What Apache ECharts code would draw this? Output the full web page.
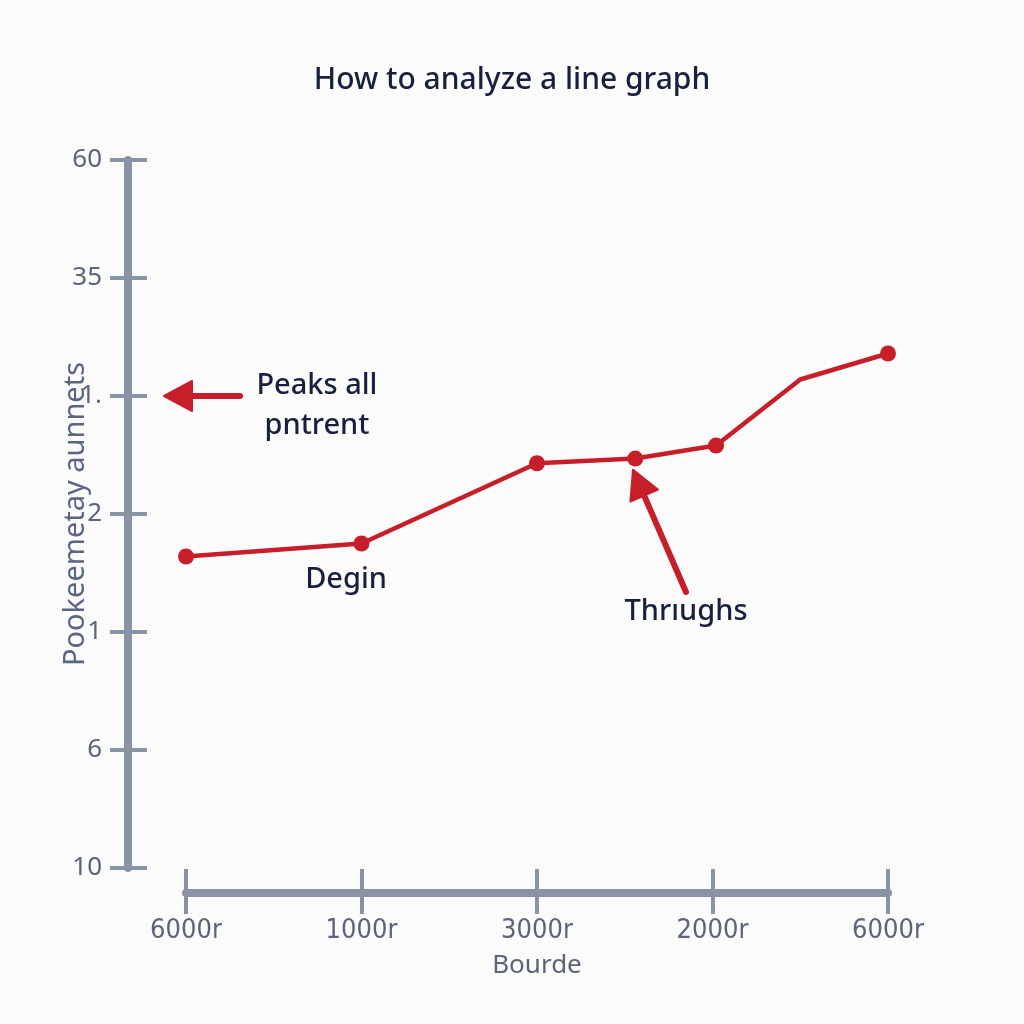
<!DOCTYPE html>
<html>
<head>
<meta charset="utf-8">
<script src="https://cdn.jsdelivr.net/npm/echarts@6/dist/echarts.min.js"></script>
<style>
html,body{margin:0;padding:0;background:#fbfbfc;}
#chart{width:1024px;height:1024px;}
</style>
</head>
<body>
<div id="chart"></div>
<script>
// ---- data ----
const titleText = 'How to analyze a line graph';
const xTickLabels = ['6000r', '1000r', '3000r', '2000r', '6000r'];
const yTickLabels = ['10', '6', '1', '2', '1.', '35', '60'];
const xName = 'Bourde';
const yName = 'Pookeemetay aunnets';
const seriesX = [0, 1, 2, 2.56, 3.02, 3.5, 4];
const seriesY = [2.64, 2.75, 3.43, 3.47, 3.58, 4.14, 4.36];
const noMarkerIndex = 5;
const annotationTexts = ['Peaks all\npntrent', 'Degin', 'Thrıughs'];
const annotationX = [0.746, 0.912, 2.849];
const annotationY = [3.915, 2.44, 2.17];
const arrowFrom = [[0.308, 4.0], [2.849, 2.339]];
const arrowTip = [[-0.125, 4.0], [2.547, 3.374]];

// ---- styles ----
const axisColor = '#8a92a5';
const labelColor = '#5b6478';
const red = '#c71f29';
const dark = '#17203d';

const chart = echarts.init(document.getElementById('chart'));

const seriesData = seriesX.map((x, i) => {
  const item = { value: [x, seriesY[i]] };
  if (i === noMarkerIndex) item.symbol = 'none';
  return item;
});

const markPointData = annotationTexts.map((t, i) => ({
  coord: [annotationX[i], annotationY[i]],
  value: t,
  symbol: 'rect',
  symbolSize: 1,
  itemStyle: { color: 'rgba(0,0,0,0)' },
  label: {
    show: true,
    position: 'inside',
    formatter: t,
    color: dark,
    fontFamily: 'Noto Sans',
    fontSize: 29,
    fontWeight: 500,
    lineHeight: 40,
    align: 'center',
    verticalAlign: 'middle'
  }
}));

chart.setOption({
  backgroundColor: '#fbfbfc',
  animation: false,
  title: {
    text: titleText,
    left: 'center',
    top: 60,
    textStyle: { color: dark, fontFamily: 'Noto Sans', fontSize: 30, fontWeight: 500 }
  },
  grid: { left: 186, right: 136, top: 160, bottom: 156, containLabel: false },
  xAxis: [{
    type: 'value', min: 0, max: 4, interval: 1, position: 'bottom', offset: 25,
    name: xName, nameLocation: 'middle', nameGap: 60, nameMoveOverlap: false,
    nameTextStyle: { color: labelColor, fontFamily: 'Noto Sans', fontSize: 26 },
    axisLine: { show: true, onZero: false, lineStyle: { color: axisColor, width: 8 } },
    axisTick: { show: true, length: 21, lineStyle: { color: axisColor, width: 4 } },
    axisLabel: {
      color: labelColor, fontFamily: "'DejaVu Sans Condensed', 'Roboto'", fontSize: 27, margin: 24,
      formatter: v => xTickLabels[Math.round(v)]
    },
    splitLine: { show: false }
  }, {
    type: 'value', min: 0, max: 4, interval: 1, position: 'bottom', offset: 25,
    axisLine: { show: false, onZero: false },
    axisTick: { show: true, inside: true, length: 24, lineStyle: { color: axisColor, width: 4 } },
    axisLabel: { show: false },
    splitLine: { show: false }
  }],
  yAxis: [{
    type: 'value', min: 0, max: 6, interval: 1, position: 'left', offset: 58,
    name: yName, nameLocation: 'middle', nameGap: 38, nameMoveOverlap: false,
    nameTextStyle: { color: '#5a6680', fontFamily: 'Noto Sans', fontSize: 29 },
    axisLine: { show: true, onZero: false, lineStyle: { color: axisColor, width: 8 } },
    axisTick: { show: true, length: 18, lineStyle: { color: axisColor, width: 4 } },
    axisLabel: {
      color: labelColor, fontFamily: 'Noto Sans', fontSize: 26, margin: 26,
      formatter: v => yTickLabels[Math.round(v)]
    },
    splitLine: { show: false }
  }, {
    type: 'value', min: 0, max: 6, interval: 1, position: 'left', offset: 58,
    axisLine: { show: false, onZero: false },
    axisTick: { show: true, inside: true, length: 19, lineStyle: { color: axisColor, width: 4 } },
    axisLabel: { show: false },
    splitLine: { show: false }
  }],
  series: [{
    type: 'line',
    xAxisIndex: 0,
    yAxisIndex: 0,
    clip: false,
    data: seriesData,
    symbol: 'circle',
    symbolSize: 16,
    showAllSymbol: true,
    lineStyle: { color: red, width: 4.5 },
    itemStyle: { color: red },
    markPoint: { silent: true, data: markPointData }
  }]
});

// arrows: positioned through the chart's own axis scales
function arrowGraphics() {
  const els = [];
  arrowFrom.forEach((from, i) => {
    const p0 = chart.convertToPixel({ xAxisIndex: 0, yAxisIndex: 0 }, from);
    const p1 = chart.convertToPixel({ xAxisIndex: 0, yAxisIndex: 0 }, arrowTip[i]);
    const dx = p1[0] - p0[0], dy = p1[1] - p0[1];
    const len = Math.sqrt(dx * dx + dy * dy);
    const ux = dx / len, uy = dy / len;
    const headLen = 28, headHalf = 15;
    const bx = p1[0] - ux * headLen, by = p1[1] - uy * headLen;
    els.push({
      type: 'line', silent: true, z: 5,
      shape: { x1: p0[0], y1: p0[1], x2: bx + ux * 4, y2: by + uy * 4 },
      style: { stroke: red, lineWidth: 6, lineCap: 'round' }
    });
    els.push({
      type: 'polygon', silent: true, z: 5,
      shape: { points: [[p1[0], p1[1]], [bx - uy * headHalf, by + ux * headHalf], [bx + uy * headHalf, by - ux * headHalf]] },
      style: { fill: red, stroke: red, lineWidth: 2, lineJoin: 'round' }
    });
  });
  return els;
}
chart.setOption({ graphic: arrowGraphics() });
</script>
</body>
</html>
